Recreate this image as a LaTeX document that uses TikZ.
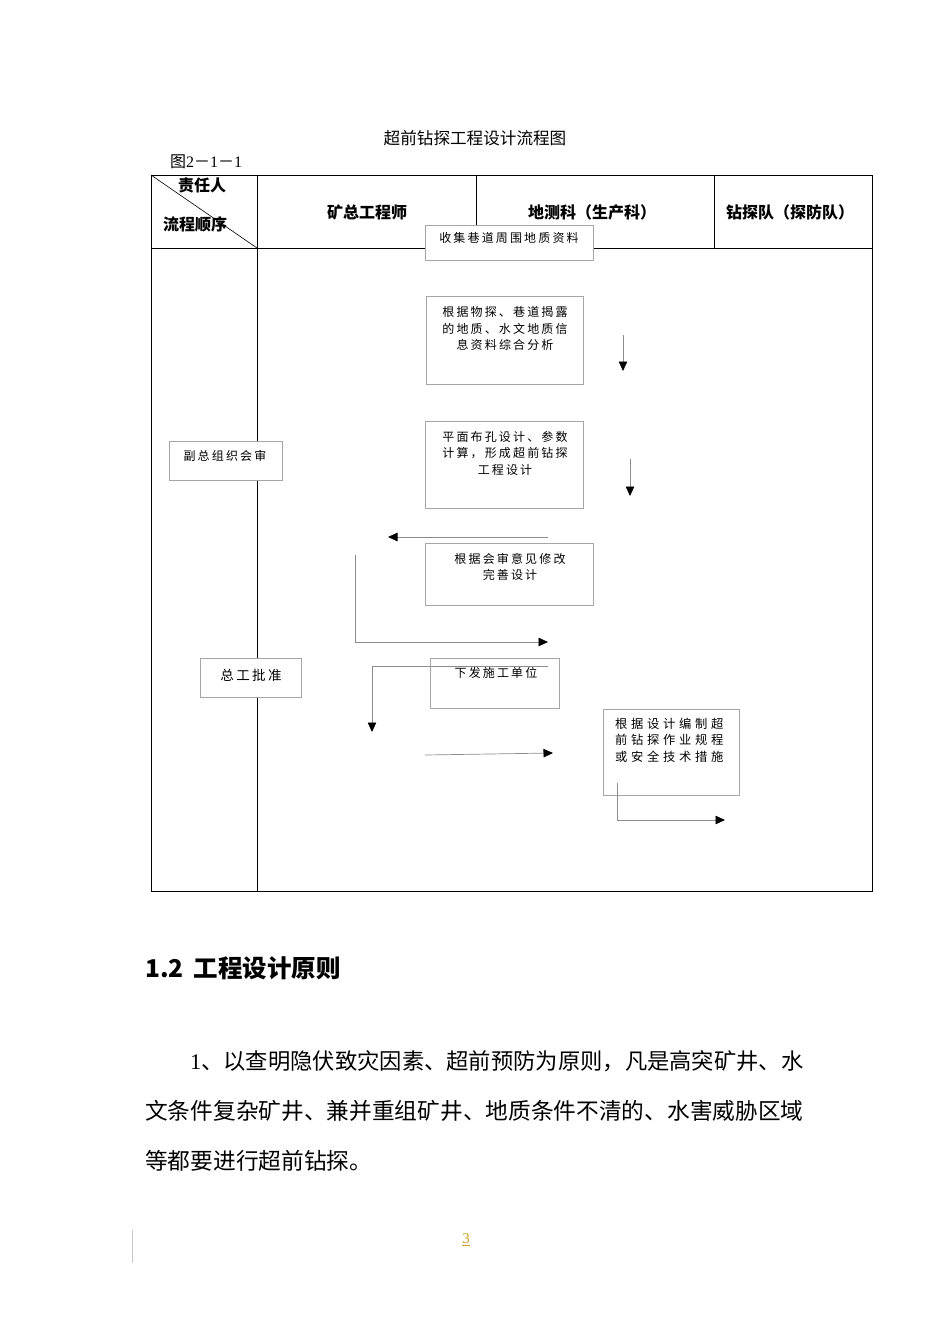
\documentclass[tikz,border=0pt]{standalone}
\usepackage{fontspec}
\usepackage{xcolor}
\usetikzlibrary{calc,positioning,arrows.meta}
\newfontfamily\cjk{Noto Sans CJK SC}
\newfontfamily\cjkspaced[LetterSpace=18]{Noto Sans CJK SC}
\newfontfamily\cjkwide[LetterSpace=30]{Noto Sans CJK SC}
\newfontfamily\digits{Liberation Serif}
\definecolor{color_box_border}{HTML}{A6A6A6}
\definecolor{color_arrow_line}{HTML}{8C8C8C}
\definecolor{color_page_number}{HTML}{C9A227}
\definecolor{color_margin_line}{HTML}{C8C8C8}

\begin{document}
\begin{tikzpicture}[x=1pt,y=-1pt,black,
	every node/.style={inner sep=0pt,font=\cjk},
	procbox/.style={draw=color_box_border,line width=0.8pt,fill=white,inner sep=0pt},
	proctext/.style={font=\cjkspaced\fontsize{12}{16.5}\selectfont,align=center},
	headtext/.style={font=\cjk\bfseries\fontsize{16}{16}\selectfont},
	flow/.style={draw=color_arrow_line,line width=0.7pt,-{Triangle[length=9.5pt,width=8.5pt,color=black]}},
	grid/.style={line width=0.9pt}]
				\useasboundingbox (0, 0) rectangle (950, 1344);
				% Points
				\coordinate (TL) at (151, 175);
				\coordinate (TR) at (872, 175);
				\coordinate (BR) at (872, 891);
				\coordinate (BL) at (151, 891);
				\coordinate (HL) at (151, 248);
				\coordinate (HR) at (872, 248);
				\coordinate (CA) at (257, 175);
				\coordinate (CB) at (476, 175);
				\coordinate (CC) at (714, 175);

				% Caption
				\node[font=\cjk\fontsize{16.6}{16.6}\selectfont] (title) at (475, 138) {超前钻探工程设计流程图};
				\node[font=\cjk\fontsize{16}{16}\selectfont,anchor=west] (figno) at (170, 162) {图{\digits 2}－{\digits 1}－{\digits 1}};

				% Table
				\draw[grid] (TL) rectangle (BR);
				\draw[grid] (HL) -- (HR);
				\draw[grid] (CA) -- (CA |- BL);
				\draw[grid] (CB) -- (CB |- HL);
				\draw[grid] (CC) -- (CC |- HL);
				\draw[line width=0.6pt] (TL) -- (CA |- HL);
				\node[headtext] (resp) at (202, 185) {责任人};
				\node[headtext] (order) at (195, 224) {流程顺序};
				\node[headtext] (chief) at (367, 212) {矿总工程师};
				\node[headtext] (survey) at (592, 212) {地测科（生产科）};
				\node[headtext] (drill) at (790, 212) {钻探队（探防队）};

				% Boxes
				\node[procbox,minimum width=168,minimum height=35] (collect) at (509, 242.5) {};
				\node[proctext] (collect-t) at (509, 238) {收集巷道周围地质资料};
				\node[procbox,minimum width=157,minimum height=88] (analyse) at (504.5, 340) {};
				\node[proctext] (analyse-t) at (505, 328.5) {根据物探、巷道揭露\\的地质、水文地质信\\息资料综合分析};
				\node[procbox,minimum width=158,minimum height=87] (layout) at (504, 464.5) {};
				\node[proctext] (layout-t) at (505, 453) {平面布孔设计、参数\\计算，形成超前钻探\\工程设计};
				\node[procbox,minimum width=168,minimum height=62] (revise) at (509, 574) {};
				\node[proctext] (revise-t) at (510, 567) {根据会审意见修改\\完善设计};
				\node[procbox,minimum width=113,minimum height=39] (review) at (225.5, 460.5) {};
				\node[proctext] (review-t) at (225, 456) {副总组织会审};
				\node[procbox,minimum width=101,minimum height=39] (approve) at (250.5, 677.5) {};
				\node[proctext,font=\cjkspaced\fontsize{13.5}{13.5}\selectfont] (approve-t) at (251, 675) {总工批准};
				\node[procbox,minimum width=129,minimum height=50] (issue) at (494.5, 683) {};
				\node[proctext] (issue-t) at (496, 673) {下发施工单位};
				\node[procbox,minimum width=136,minimum height=86] (compile) at (671, 752) {};
				\node[font=\cjkwide\fontsize{12.3}{16.5}\selectfont,align=left,anchor=west] (compile-t) at (615, 740) {根据设计编制超\\前钻探作业规程\\或安全技术措施};

				% Arrows
				\coordinate (A1s) at (623, 335);
				\coordinate (A1e) at (623, 371);
				\coordinate (A2s) at (630, 459);
				\coordinate (A2e) at (630, 496);
				\coordinate (A3s) at (548, 537);
				\coordinate (A3e) at (388, 537);
				\coordinate (A4s) at (355, 555);
				\coordinate (A4e) at (548, 642);
				\coordinate (A5s) at (548, 666);
				\coordinate (A5e) at (372, 732);
				\coordinate (A6s) at (425, 755);
				\coordinate (A6e) at (553, 753);
				\coordinate (A7s) at (617, 783);
				\coordinate (A7e) at (725, 820);
				\draw[flow] (A1s) -- (A1e);
				\draw[flow] (A2s) -- (A2e);
				\draw[flow] (A3s) -- (A3e);
				\draw[flow] (A4s) |- (A4e);
				\draw[flow] (A5s) -| (A5e);
				\draw[flow] (A6s) -- (A6e);
				\draw[flow] (A7s) |- (A7e);

				% Text below
				\node[font=\cjk\bfseries\fontsize{24.5}{24.5}\selectfont,anchor=west] (heading) at (145, 968) {1.2\hspace{10pt}工程设计原则};
				\node[font=\cjk\fontsize{22.3}{22.3}\selectfont,anchor=west] (para-a) at (190, 1061) {{\digits 1}、以查明隐伏致灾因素、超前预防为原则，凡是高突矿井、水};
				\node[font=\cjk\fontsize{22.7}{22.7}\selectfont,anchor=west] (para-b) at (145, 1111) {文条件复杂矿井、兼并重组矿井、地质条件不清的、水害威胁区域};
				\node[font=\cjk\fontsize{22.7}{22.7}\selectfont,anchor=west] (para-c) at (145, 1161) {等都要进行超前钻探。};

				% Footer
				\coordinate (ML) at (132, 1230);
				\draw[color_margin_line,line width=0.8pt] (ML) -- ++(0, 33);
				\node[font=\digits\fontsize{15}{15}\selectfont,text=color_page_number] (pageno) at (466, 1240) {\underline{3}};
			\end{tikzpicture}
\end{document}
